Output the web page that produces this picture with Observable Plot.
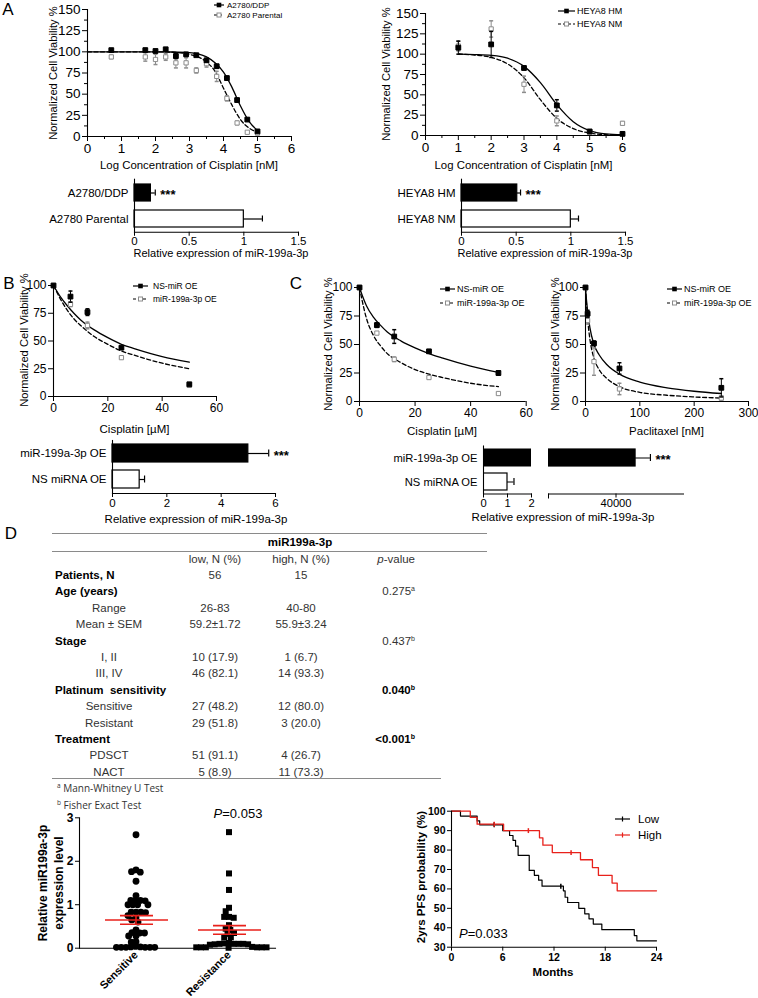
<!DOCTYPE html>
<html><head><meta charset="utf-8">
<script src="https://cdn.jsdelivr.net/npm/d3@7"></script>
<script src="https://cdn.jsdelivr.net/npm/@observablehq/plot@0.6"></script>
<style>
html,body{margin:0;padding:0;background:#fff;}
#root{position:relative;width:758px;height:998px;overflow:hidden;background:#fff;}
.t{position:absolute;white-space:pre;line-height:1;}
.ln{position:absolute;height:0;border-top:1px solid #8a8a8a;}
</style></head><body><div id="root"></div>
<script>
// ================= DATA =================
// Panel A (left): A2780 lines, x = log concentration of cisplatin [nM]
const aLx = [0.7,1.7,2.0,2.3,2.6,2.9,3.2,3.5,3.8,4.1,4.4,4.7,5.0];
const aDDP = [102,102,101,103,95,97,96,90,83,69,43,20,6];
const aDDPerr = [1,2,1,1,3,2,1,2,2,2,2,1,1];
const aPar = [94,94,91,94,87,87,78,86,71,45,16,5,4];
const aParErr = [2,5,6,4,6,6,3,4,6,3,2,1,1];
const aFitX = [0,1,2,2.5,3,3.25,3.5,3.75,4,4.25,4.5,4.75,5];
const aDDPfit = [100,100,100,99.8,99,97.5,94,87,76,58,36,18,7];
const aParFit = [100,100,100,99.5,97,94,88,77,57,37,20,10,5];
// Panel A (right): HEYA8 lines
const aRx = [1,2,3,4,5,6];
const hmVals = [108,112,83,37,5,2];
const hmErr = [8,16,2,7,2,1];
const nmVals = [110,131,63,18,4,15];
const nmErr = [6,10,10,6,2,2];
const aRFitX = [1,1.5,2,2.5,3,3.5,4,4.5,5,5.5,6];
const hmFit = [100,99.5,98.5,95,85,65,38,17,6,2,1];
const nmFit = [100,99,96,88,71,44,21,8.5,3,1,0.5];
const aXTicks = [0,1,2,3,4,5,6];
const aXMinor = [0.5,1.5,2.5,3.5,4.5,5.5];
const aYTicks = [0,25,50,75,100,125,150];
const aYMinor = [12.5,37.5,62.5,87.5,112.5,137.5];
// Panel A bars
const aBarLCats = ["A2780/DDP","A2780 Parental"];
const aBarLVals = [0.15,1.0];
const aBarLErr = [0.04,0.17];
const aBarRCats = ["HEYA8 HM","HEYA8 NM"];
const aBarRVals = [0.51,1.0];
const aBarRErr = [0.03,0.07];
const sigMarks = ["***",""];
const aBarTicks = [0,0.5,1,1.5];
// Panel B: cisplatin [µM]
const bX = [0,6.25,12.5,25,50];
const bNS = [100,90,76,44,11];
const bNSErr = [0,5,3,1,1];
const bMiR = [100,83,64,35,10];
const bMiRErr = [0,2,3,1,1];
const bFitX = [0,2.5,5,7.5,10,15,20,25,30,40,50];
const bNSFit = [100,90,82,75,69,60,53,47,43,36,31];
const bMiRFit = [100,88,78,70,64,54,47,41,37,30,25];
const cisTicks = [0,20,40,60];
const viaTicks = [0,25,50,75,100];
// Panel C: cisplatin [µM]
const cX = [0,6.25,12.5,25,50];
const cNS = [100,67,57,44,25];
const cNSErr = [0,2,6,1,2];
const cMiR = [100,60,37,21,7];
const cMiRErr = [0,1,2,1,1];
const cFitX = [0,1,2.5,5,7.5,10,15,20,25,30,40,50];
const cNSFit = [100,93,84,74,67,61,53,47,42,38,31,25.5];
const cMiRFit = [100,88,73,58,49,42,34,28,24,21,16,13];
// Panel C: paclitaxel [nM]
const pX = [0,3.9,15.6,62.5,250];
const pNS = [100,77,51,29,12];
const pNSErr = [0,3,2,5,8];
const pMiR = [100,71,35,11,3];
const pMiRErr = [0,3,12,5,2];
const pFitX = [0,2,4,8,15.6,25,40,62.5,100,150,200,250];
const pNSFit = [100,88,79,65,50,41,32,24,17,12,9,7];
const pMiRFit = [100,84,72,55,38,28,20,13,8,5.5,4,3];
const pacTicks = [0,100,200,300];
// Panel B / C bars
const oeCats = ["miR-199a-3p OE","NS miRNA OE"];
const bBarVals = [5.0,1.0];
const bBarErr = [0.75,0.18];
const bBarTicks = [0,2,4,6];
const cBarVals = [48700,1.0];
const cBarErr = [6600,0.27];
const cBarTicksL = [0,1,2];
const cBarTicksR = [40000];
// Panel D table
const tblColHeads = ["low, N (%)","high, N (%)"];
const tblLabels = ["Patients, N","Age (years)","Range","Mean ± SEM","Stage","I, II","III, IV","Platinum  sensitivity","Sensitive","Resistant","Treatment","PDSCT","NACT"];
const tblIsHead = [1,1,0,0,1,0,0,1,0,0,1,0,0];
const tblLow = ["56","","26-83","59.2±1.72","","10 (17.9)","46 (82.1)","","27 (48.2)","29 (51.8)","","51 (91.1)","5 (8.9)"];
const tblHigh = ["15","","40-80","55.9±3.24","","1 (6.7)","14 (93.3)","","12 (80.0)","3 (20.0)","","4 (26.7)","11 (73.3)"];
const tblP = ["","0.275","","","0.437","","","0.040","","","<0.001","",""];
const tblPSup = ["","a","","","b","","","b","","","b","",""];
const tblPBold = [0,0,0,0,0,0,0,1,0,0,1,0,0];
const tblNotes = [["a","Mann-Whitney U Test"],["b","Fisher Exact Test"]];
// Panel D scatter
const scGroups = ["Sensitive","Resistance"];
const sensVals = [2.61,1.80,1.76,1.75,1.54,1.21,1.10,1.10,1.10,1.09,1.00,1.00,1.00,1.00,0.83,0.83,0.83,0.82,0.75,0.70,0.65,0.60,0.42,0.36,0.35,0.35,0.28,0.28,0.15,0.14,0.04,0.03,0.03,0.02,0.02,0.02,0.02,0.02,0.02];
const resVals = [2.67,1.72,1.34,0.93,0.85,0.72,0.72,0.70,0.53,0.45,0.42,0.35,0.33,0.25,0.25,0.12,0.11,0.10,0.10,0.10,0.10,0.09,0.09,0.08,0.03,0.02,0.02,0.02,0.02,0.02,0.02,0.01];
const scMean = [0.65,0.42];
const scSEM = [0.10,0.10];
const scYTicks = [0,1,2,3];
// Panel D Kaplan-Meier
const kmLowT = [0,1.05,3.0,3.3,6.0,6.8,7.2,7.5,7.8,9.1,9.7,10.2,10.6,13.1,13.3,13.6,14.9,15.6,16.1,16.6,17.6,21.4,21.7,24];
const kmLowS = [100,97.5,95,93,90,87.5,85,82,77.3,69.5,67,64.5,61.4,59,55.7,53,50,47.2,44.6,41.9,39,36,33.3,33.3];
const kmHighT = [0,2.2,3.0,6.1,10.3,10.7,11.8,15.1,16.5,17.2,18.8,19.4,24];
const kmHighS = [100,96.8,93.3,90,86.3,82.5,78.7,75,71,67,63,59,59];
const kmCensLowT = [5.0,12.8];
const kmCensLowS = [93,61.4];
const kmCensHighT = [5.0,9.0,14.0];
const kmCensHighS = [93.3,90,78.7];
const kmXTicks = [0,6,12,18,24];
const kmYTicks = [30,40,50,60,70,80,90,100];

// ================= HELPERS =================
const FONT = '"Liberation Sans", Arial, Helvetica, sans-serif';
const root = document.getElementById("root");
const RED = "#e8211b";
const GREY = "#8c8c8c";
function place(svg, left, top) {
  svg.style.position = "absolute"; svg.style.left = left + "px"; svg.style.top = top + "px";
  root.appendChild(svg); return svg;
}
function txt(html, x, y, o = {}) {
  const d = document.createElement("div"); d.className = "t"; d.innerHTML = html;
  const anchor = o.anchor || "middle";
  const tx = anchor === "start" ? "0" : anchor === "end" ? "-100%" : "-50%";
  d.style.left = x + "px"; d.style.top = y + "px";
  d.style.font = `${o.style || "normal"} ${o.weight || "normal"} ${o.size || 11}px ${o.family || FONT}`;
  d.style.color = o.color || "#000";
  d.style.transform = `translate(${tx},-50%)` + (o.rotate ? ` rotate(${o.rotate}deg)` : "");
  root.appendChild(d); return d;
}
function hline(x1, x2, y, color) {
  const d = document.createElement("div"); d.className = "ln";
  d.style.left = x1 + "px"; d.style.top = y + "px"; d.style.width = (x2 - x1) + "px";
  if (color) d.style.borderTopColor = color;
  root.appendChild(d);
}
function legend(x, y, label, o) {
  const ns = "http://www.w3.org/2000/svg";
  const s = document.createElementNS(ns, "svg");
  s.setAttribute("width", o.len + 4); s.setAttribute("height", 12);
  s.style.cssText = `position:absolute;left:${x}px;top:${y - 6}px;overflow:visible`;
  const col = o.color || "#000";
  let h = `<line x1="0" x2="${o.len}" y1="6" y2="6" stroke="${col}" stroke-width="${o.sw || 1.2}" ${o.dashed ? 'stroke-dasharray="3,2"' : ''}/>`;
  const m = o.len / 2;
  if (o.marker === "filled") h += `<rect x="${m - 2.3}" y="3.7" width="4.6" height="4.6" fill="#000"/>`;
  if (o.marker === "open") h += `<rect x="${m - 2}" y="4" width="4" height="4" fill="#fff" stroke="${GREY}"/>`;
  if (o.marker === "tick") h += `<line x1="${m}" x2="${m}" y1="3.5" y2="8.5" stroke="${col}" stroke-width="1.2"/>`;
  s.innerHTML = h; root.appendChild(s);
  txt(label, x + o.len + o.gap, y, {anchor: "start", size: o.size, color: o.textColor || "#000"});
}
const capH = {draw(c, s) { const w = Math.sqrt(s) / 1.6; c.moveTo(-w, 0); c.lineTo(w, 0); }};
const capV = {draw(c, s) { const h = Math.sqrt(s) / 1.6; c.moveTo(0, -h); c.lineTo(0, h); }};
// scatter glyphs drawn larger than the collision radius used by dodge (points overlap as in the original)
const GROW = 1.55;
const bigCircle = {draw(c, s) { const r = Math.sqrt(s / Math.PI) * GROW; c.moveTo(r, 0); c.arc(0, 0, r, 0, 2 * Math.PI); }};
const bigSquare = {draw(c, s) { const h = Math.sqrt(s / Math.PI) * GROW * 0.88; c.rect(-h, -h, 2 * h, 2 * h); }};
const baseStyle = (fs) => ({fontFamily: FONT, fontSize: fs + "px", color: "#000", background: "transparent", overflow: "visible"});

function curvePanel(o) {
  const ml = o.fx0 - o.left, mr = o.left + o.width - o.fx1, mt = o.fyTop - o.top, mb = o.top + o.height - o.fyBot;
  const marks = [];
  for (const s of o.series) {
    const fit = s.fitX.map((x, i) => ({x, y: s.fitY[i]}));
    const opt = {x: "x", y: "y", stroke: "#000", strokeWidth: 1.3, curve: "monotone-x"};
    if (s.dashed) opt.strokeDasharray = "4,2.5";
    marks.push(Plot.line(fit, opt));
  }
  for (const s of o.series) {
    const pts = s.x.map((x, i) => ({x, y: s.y[i], e: s.err[i]}));
    const col = s.filled ? "#000" : GREY;
    const eb = pts.filter(d => d.e > 0);
    marks.push(Plot.ruleX(eb, {x: "x", y1: d => d.y - d.e, y2: d => d.y + d.e, stroke: col, strokeWidth: 1}));
    marks.push(Plot.dot(eb, {x: "x", y: d => d.y + d.e, symbol: capH, r: 1.8, stroke: col, fill: "none"}));
    marks.push(Plot.dot(eb, {x: "x", y: d => d.y - d.e, symbol: capH, r: 1.8, stroke: col, fill: "none"}));
    marks.push(Plot.dot(pts, {x: "x", y: "y", symbol: "square", r: s.filled ? 2.7 : 2.4, fill: s.filled ? "#000" : "#fff", stroke: col, strokeWidth: 1}));
  }
  marks.push(Plot.ruleX([o.xDomain[0]], {stroke: "#000", strokeWidth: 1.1}));
  marks.push(Plot.ruleY([o.yDomain[0]], {stroke: "#000", strokeWidth: 1.1}));
  marks.push(Plot.axisX({ticks: o.xTicks, tickSize: 5, tickPadding: 2, label: null, fontSize: o.tf, tickFormat: "d"}));
  marks.push(Plot.axisY({ticks: o.yTicks, tickSize: 5, tickPadding: 2, label: null, fontSize: o.tf, tickFormat: "d"}));
  if (o.xMinor) marks.push(Plot.axisX({ticks: o.xMinor, tickSize: 3, tickFormat: () => "", label: null}));
  if (o.yMinor) marks.push(Plot.axisY({ticks: o.yMinor, tickSize: 3, tickFormat: () => "", label: null}));
  const svg = Plot.plot({width: o.width, height: o.height, marginLeft: ml, marginRight: mr, marginTop: mt, marginBottom: mb,
    x: {domain: o.xDomain}, y: {domain: o.yDomain}, style: baseStyle(o.tf), marks});
  place(svg, o.left, o.top);
}

function barPanel(o) {
  const rows = o.cats.map((c, i) => ({c, v: o.vals[i], e: o.errs[i], s: sigMarks[i], first: i === 0}));
  const clip = !!o.clip;
  const showY = o.showY !== false;
  const inDomain = d => d.v + d.e <= o.xDomain[1] && d.v + d.e >= o.xDomain[0];
  const ml = o.fx0 - o.left, mr = o.left + o.width - o.fx1, mt = o.fyTop - o.top, mb = o.top + o.height - o.fyBot;
  const marks = [
    Plot.barX(rows.filter(d => d.first), {y: "c", x: "v", fill: "#000", stroke: "#000", strokeWidth: 1.2, clip}),
    Plot.barX(rows.filter(d => !d.first), {y: "c", x: "v", fill: "#fff", stroke: "#000", strokeWidth: 1.2, clip}),
    Plot.ruleY(rows, {y: "c", x1: "v", x2: d => d.v + d.e, stroke: "#000", strokeWidth: 1.2, clip}),
    Plot.tickX(rows.filter(inDomain), {y: "c", x: d => d.v + d.e, stroke: "#000", strokeWidth: 1.2, insetTop: o.capInset, insetBottom: o.capInset}),
    Plot.text(rows.filter(d => d.s && inDomain(d)), {y: "c", x: d => d.v + d.e, text: "s", dx: 5, dy: 2, textAnchor: "start", fontSize: 13, fontWeight: "bold"}),
    Plot.frame({anchor: "bottom", stroke: "#000", strokeWidth: 1.1}),
    Plot.axisX({ticks: o.xTicks, tickSize: 4, tickPadding: 1, label: null, fontSize: o.tf, tickFormat: o.tickFormat || (d => String(d))})
  ];
  if (o.minorTicks) marks.push(Plot.axisX({ticks: o.minorTicks, tickSize: 5, tickFormat: () => "", label: null}));
  if (showY) {
    marks.push(Plot.frame({anchor: "left", stroke: "#000", strokeWidth: 1.1}));
    marks.push(Plot.axisY({tickSize: 0, tickPadding: 6, label: null, fontSize: o.tf}));
  }
  const yOpt = {type: "band", domain: o.cats, paddingInner: o.pi, paddingOuter: o.pi / 2};
  if (!showY) yOpt.axis = null;
  const svg = Plot.plot({width: o.width, height: o.height, marginLeft: ml, marginRight: mr, marginTop: mt, marginBottom: mb,
    x: {domain: o.xDomain}, y: yOpt, style: baseStyle(o.tf), marks});
  place(svg, o.left, o.top);
}

// ================= PANEL A =================
txt("A", 8, 10, {size: 17});
curvePanel({left: 0, top: 0, width: 340, height: 175, fx0: 87, fx1: 291, fyTop: 9, fyBot: 136,
  xDomain: [0, 6], yDomain: [0, 150], xTicks: aXTicks, yTicks: aYTicks, xMinor: aXMinor, yMinor: aYMinor, tf: 13.5,
  series: [
    {x: aLx, y: aPar, err: aParErr, filled: false, fitX: aFitX, fitY: aParFit, dashed: true},
    {x: aLx, y: aDDP, err: aDDPerr, filled: true, fitX: aFitX, fitY: aDDPfit, dashed: false}
  ]});
txt("Normalized Cell Viability %", 53, 72.5, {size: 11.2, rotate: -90});
txt("Log Concentration of Cisplatin [nM]", 189, 165, {size: 11.4});
legend(214, 5, "A2780/DDP", {len: 10, gap: 3, size: 8, marker: "filled"});
legend(214, 15, "A2780 Parental", {len: 10, gap: 3, size: 8, marker: "open", dashed: true});

curvePanel({left: 378, top: 0, width: 300, height: 175, fx0: 425, fx1: 622, fyTop: 13, fyBot: 135,
  xDomain: [0, 6], yDomain: [0, 150], xTicks: aXTicks, yTicks: aYTicks, xMinor: aXMinor, yMinor: aYMinor, tf: 13.5,
  series: [
    {x: aRx, y: nmVals, err: nmErr, filled: false, fitX: aRFitX, fitY: nmFit, dashed: true},
    {x: aRx, y: hmVals, err: hmErr, filled: true, fitX: aRFitX, fitY: hmFit, dashed: false}
  ]});
txt("Normalized Cell Viability %", 386, 74, {size: 11.2, rotate: -90});
txt("Log Concentration of Cisplatin [nM]", 523.5, 165, {size: 11.4});
legend(558, 11, "HEYA8 HM", {len: 17, gap: 2, size: 9, marker: "filled"});
legend(558, 24, "HEYA8 NM", {len: 17, gap: 2, size: 9, marker: "open", dashed: true});

barPanel({left: 0, top: 170, width: 320, height: 90, fx0: 134, fx1: 298, fyTop: 178.75, fyBot: 231.75,
  cats: aBarLCats, vals: aBarLVals, errs: aBarLErr, xDomain: [0, 1.5], xTicks: aBarTicks, pi: 0.34, capInset: 5.5, tf: 11.5});
txt("Relative expression of miR-199a-3p", 221, 253, {size: 11});
barPanel({left: 380, top: 170, width: 300, height: 90, fx0: 461, fx1: 625, fyTop: 178.75, fyBot: 231.75,
  cats: aBarRCats, vals: aBarRVals, errs: aBarRErr, xDomain: [0, 1.5], xTicks: aBarTicks, pi: 0.34, capInset: 5.5, tf: 11.5});
txt("Relative expression of miR-199a-3p", 545, 253, {size: 11});

// ================= PANEL B =================
txt("B", 9, 284, {size: 17});
curvePanel({left: 0, top: 270, width: 240, height: 175, fx0: 53, fx1: 216, fyTop: 285, fyBot: 396,
  xDomain: [0, 60], yDomain: [0, 100], xTicks: cisTicks, yTicks: viaTicks, tf: 12,
  series: [
    {x: bX, y: bMiR, err: bMiRErr, filled: false, fitX: bFitX, fitY: bMiRFit, dashed: true},
    {x: bX, y: bNS, err: bNSErr, filled: true, fitX: bFitX, fitY: bNSFit, dashed: false}
  ]});
txt("Normalized Cell Viability %", 24, 340, {size: 11.2, rotate: -90});
txt("Cisplatin [µM]", 134.5, 429, {size: 11.5});
legend(133, 286, "NS-miR OE", {len: 15, gap: 5, size: 8.5, marker: "filled"});
legend(133, 299, "miR-199a-3p OE", {len: 15, gap: 5, size: 8.5, marker: "open", dashed: true});
barPanel({left: 0, top: 430, width: 320, height: 80, fx0: 112, fx1: 275, fyTop: 440, fyBot: 493,
  cats: oeCats, vals: bBarVals, errs: bBarErr, xDomain: [0, 6], xTicks: bBarTicks, pi: 0.3, capInset: 5.5, tf: 11.5});
txt("Relative expression of miR-199a-3p", 196, 519, {size: 11.5});

// ================= PANEL C =================
txt("C", 296, 284, {size: 17});
curvePanel({left: 300, top: 270, width: 240, height: 175, fx0: 359, fx1: 525.7, fyTop: 287, fyBot: 401,
  xDomain: [0, 60], yDomain: [0, 100], xTicks: cisTicks, yTicks: viaTicks, tf: 12,
  series: [
    {x: cX, y: cMiR, err: cMiRErr, filled: false, fitX: cFitX, fitY: cMiRFit, dashed: true},
    {x: cX, y: cNS, err: cNSErr, filled: true, fitX: cFitX, fitY: cNSFit, dashed: false}
  ]});
txt("Normalized Cell Viability %", 328, 344, {size: 11.2, rotate: -90});
txt("Cisplatin [µM]", 442, 431, {size: 11.5});
legend(440, 289, "NS-miR OE", {len: 15, gap: 2, size: 9, marker: "filled"});
legend(440, 303, "miR-199a-3p OE", {len: 15, gap: 2, size: 9, marker: "open", dashed: true});

curvePanel({left: 540, top: 270, width: 218, height: 175, fx0: 585, fx1: 748, fyTop: 287, fyBot: 401,
  xDomain: [0, 300], yDomain: [0, 100], xTicks: pacTicks, yTicks: viaTicks, tf: 12,
  series: [
    {x: pX, y: pMiR, err: pMiRErr, filled: false, fitX: pFitX, fitY: pMiRFit, dashed: true},
    {x: pX, y: pNS, err: pNSErr, filled: true, fitX: pFitX, fitY: pNSFit, dashed: false}
  ]});
txt("Normalized Cell Viability %", 555, 344, {size: 11.2, rotate: -90});
txt("Paclitaxel [nM]", 666.5, 431, {size: 11.5});
legend(667, 289, "NS-miR OE", {len: 15, gap: 2, size: 9, marker: "filled"});
legend(667, 303, "miR-199a-3p OE", {len: 15, gap: 2, size: 9, marker: "open", dashed: true});

barPanel({left: 340, top: 430, width: 200, height: 80, fx0: 483, fx1: 531, fyTop: 445.5, fyBot: 493.5,
  cats: oeCats, vals: cBarVals, errs: cBarErr, xDomain: [0, 2], xTicks: cBarTicksL, pi: 0.28, capInset: 5, tf: 11.2, clip: true});
barPanel({left: 540, top: 430, width: 200, height: 80, fx0: 548, fx1: 683, fyTop: 445.5, fyBot: 493.5,
  cats: oeCats, vals: cBarVals, errs: cBarErr, xDomain: [10000, 70000], xTicks: cBarTicksR, pi: 0.28, capInset: 5, tf: 11.2,
  clip: true, showY: false, tickFormat: d => String(d), minorTicks: [10000]});
txt("Relative expression of miR-199a-3p", 563, 517, {size: 11.5});

// ================= PANEL D: table =================
txt("D", 11, 534, {size: 17});
hline(52, 487, 533);
txt("miR199a-3p", 300, 542, {size: 11.5, weight: "bold"});
hline(52, 487, 551);
txt(tblColHeads[0], 215, 559, {size: 11.5, color: "#333"});
txt(tblColHeads[1], 301, 559, {size: 11.5, color: "#333"});
txt("<i>p</i>-value", 415, 559, {size: 11.5, anchor: "end", color: "#333"});
tblLabels.forEach((lab, i) => {
  const y = 575 + i * 16.4;
  if (tblIsHead[i]) txt(lab, 55, y, {size: 11.5, weight: "bold", anchor: "start"});
  else txt(lab, 109, y, {size: 11.5, color: "#333"});
  if (tblLow[i]) txt(tblLow[i], 215, y, {size: 11.5, color: "#333"});
  if (tblHigh[i]) txt(tblHigh[i], 301, y, {size: 11.5, color: "#333"});
  if (tblP[i]) txt(tblP[i] + `<sup style="font-size:7px">${tblPSup[i]}</sup>`, 415, y,
    {size: 11.5, anchor: "end", weight: tblPBold[i] ? "bold" : "normal", color: tblPBold[i] ? "#000" : "#333"});
});
hline(52, 441, 778);
tblNotes.forEach(([s, n], i) => {
  txt(`<sup style="font-size:6.5px">${s}</sup> ${n}`, 57, 788 + i * 17, {size: 10, anchor: "start", family: '"Open Sans", sans-serif', color: "#333"});
});

// ================= PANEL D: scatter =================
const scData = sensVals.map(v => ({g: scGroups[0], v})).concat(resVals.map(v => ({g: scGroups[1], v})));
const scStats = scGroups.map((g, i) => ({g, m: scMean[i], s: scSEM[i]}));
const scDots = Plot.plot({width: 300, height: 208, marginLeft: 88.5, marginRight: 25.5, marginTop: 27.3, marginBottom: 50.3,
  fx: {domain: scGroups, padding: 0, axis: null, label: null},
  y: {domain: [0, 3], axis: null},
  symbol: {domain: scGroups, range: [bigCircle, bigSquare]},
  style: baseStyle(12),
  marks: [Plot.dot(scData, Plot.dodgeX({anchor: "middle", padding: 0.4}, {fx: "g", y: "v", r: 2.2, symbol: "g", fill: "#000", stroke: "none"}))]
});
place(scDots, 0, 790);
const scAxis = Plot.plot({width: 300, height: 208, marginLeft: 79, marginRight: 25, marginTop: 27.3, marginBottom: 50.3,
  x: {type: "band", domain: scGroups, range: [88.5, 274.5], padding: 0},
  y: {domain: [0, 3]},
  style: baseStyle(12),
  marks: [
    Plot.frame({anchor: "left", stroke: "#000", strokeWidth: 1.1}),
    Plot.frame({anchor: "bottom", stroke: "#000", strokeWidth: 1.1}),
    Plot.axisY({ticks: scYTicks, tickSize: 4, tickPadding: 2, label: null, fontSize: 12, fontWeight: "bold", tickFormat: "d"}),
    Plot.axisX({tickSize: 0, tickPadding: 5, tickRotate: -45, label: null, fontSize: 11, fontWeight: "bold"}),
    Plot.tickY(scStats, {x: "g", y: "m", stroke: RED, strokeWidth: 1.6, insetLeft: 16, insetRight: 14}),
    Plot.tickY(scStats, {x: "g", y: d => d.m + d.s, stroke: RED, strokeWidth: 1.6, insetLeft: 31, insetRight: 29}),
    Plot.tickY(scStats, {x: "g", y: d => d.m - d.s, stroke: RED, strokeWidth: 1.6, insetLeft: 31, insetRight: 29}),
    Plot.ruleX(scStats, {x: "g", y1: d => d.m - d.s, y2: d => d.m + d.s, stroke: RED, strokeWidth: 1.6})
  ]});
place(scAxis, 0, 790);
txt("<i>P</i>=0.053", 238, 813, {size: 13});
txt("Relative miR199a-3p", 43, 883, {size: 12, weight: "bold", rotate: -90});
txt("expression level", 59, 883, {size: 12, weight: "bold", rotate: -90});

// ================= PANEL D: Kaplan-Meier =================
const kmLow = kmLowT.map((t, i) => ({t, s: kmLowS[i]}));
const kmHigh = kmHighT.map((t, i) => ({t, s: kmHighS[i]}));
const kmCL = kmCensLowT.map((t, i) => ({t, s: kmCensLowS[i]}));
const kmCH = kmCensHighT.map((t, i) => ({t, s: kmCensHighS[i]}));
const km = Plot.plot({width: 378, height: 200, marginLeft: 71, marginRight: 102, marginTop: 20.7, marginBottom: 43.3,
  x: {domain: [0, 24]}, y: {domain: [30, 100]},
  style: baseStyle(10),
  marks: [
    Plot.line(kmLow, {x: "t", y: "s", curve: "step-after", stroke: "#000", strokeWidth: 1.2}),
    Plot.line(kmHigh, {x: "t", y: "s", curve: "step-after", stroke: RED, strokeWidth: 1.3}),
    Plot.dot(kmCL, {x: "t", y: "s", symbol: capV, r: 2.2, stroke: "#000", fill: "none"}),
    Plot.dot(kmCH, {x: "t", y: "s", symbol: capV, r: 2.2, stroke: RED, fill: "none"}),
    Plot.ruleX([0], {stroke: "#000", strokeWidth: 1.1}),
    Plot.ruleY([30], {stroke: "#000", strokeWidth: 1.1}),
    Plot.axisX({ticks: kmXTicks, tickSize: 4, tickPadding: 2, label: null, fontSize: 10.5, fontWeight: "bold"}),
    Plot.axisY({ticks: kmYTicks, tickSize: 4, tickPadding: 2, label: null, fontSize: 10.5, fontWeight: "bold"})
  ]});
place(km, 380, 790);
txt("2yrs PFS probability (%)", 421, 877, {size: 11.5, weight: "bold", rotate: -90});
txt("Months", 553, 972, {size: 11.5, weight: "bold"});
txt("<i>P</i>=0.033", 459, 933, {size: 13, anchor: "start"});
legend(615, 819, "Low", {len: 15, gap: 8, size: 11.5, marker: "tick"});
legend(615, 835, "High", {len: 15, gap: 8, size: 11.5, marker: "tick", color: RED});
</script></body></html>
